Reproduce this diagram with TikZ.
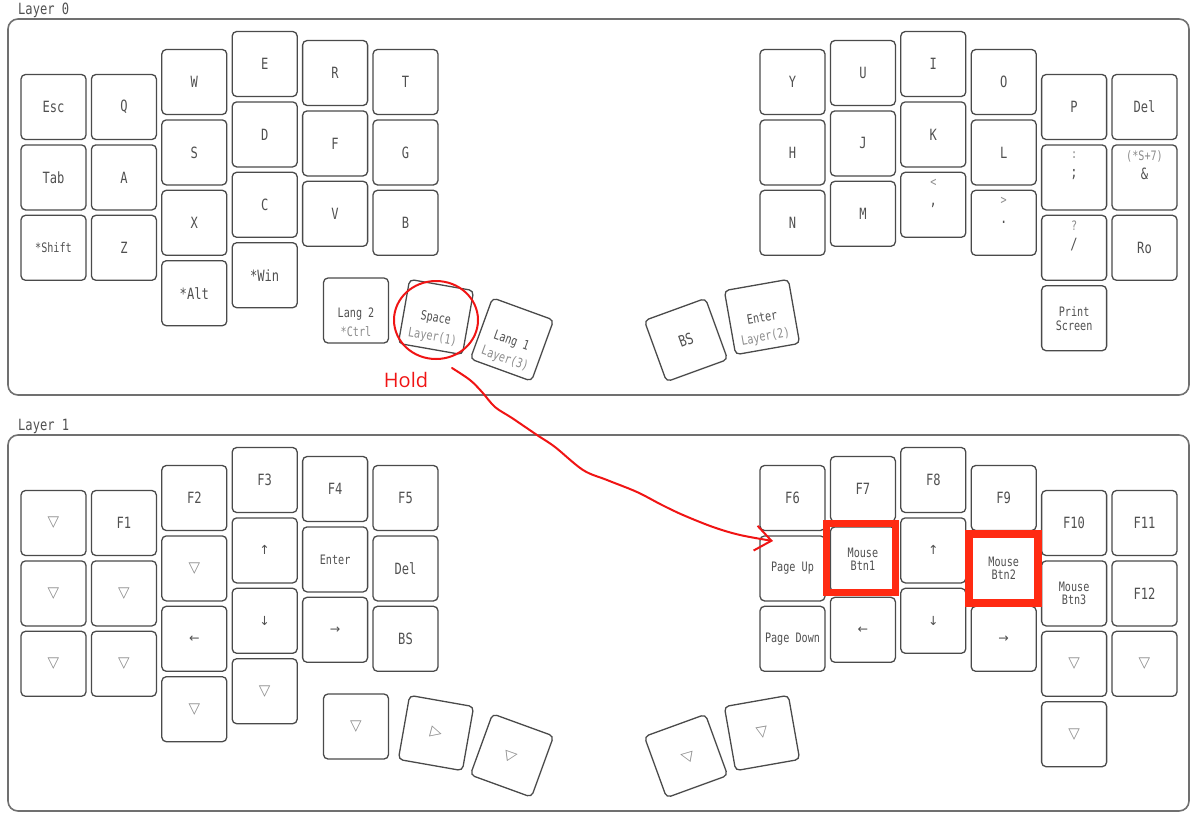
\documentclass[tikz,border=0pt]{standalone}
\usepackage{fontspec}
\usepackage{graphicx}
\usetikzlibrary{arrows.meta,shapes.geometric,calc}
\newfontfamily\mono[FakeStretch=0.78]{DejaVu Sans Mono}
\newfontfamily\simb{DejaVu Sans}
\newfontfamily\manual{Open Sans}
\definecolor{cborde}{HTML}{4A4A4A}
\definecolor{cmarco}{HTML}{707070}
\definecolor{ctexto}{HTML}{505050}
\definecolor{ctextoc}{HTML}{8C8C8C}
\definecolor{crojo}{HTML}{F01414}
\definecolor{cresalte}{HTML}{FF2A12}
\newcommand{\fteclas}{\mono\fontsize{15.5}{19}\selectfont}
\newcommand{\fpeq}{\mono\fontsize{13}{14}\selectfont}
\newcommand{\fflecha}{\simb\fontsize{12.5}{14}\selectfont}
\newcommand{\etq}[1]{{\color{ctextoc}\fontsize{13}{19}\selectfont #1}}
\newcommand{\vacio}{{\simb\fontsize{15}{15}\selectfont\color{ctextoc}▽}}
\tikzset{
  tecla/.style={draw=cborde,line width=1.3pt,rounded corners=4.5pt,minimum size=65pt,
                inner sep=0pt,align=center,font=\fteclas,text=ctexto},
  teclap/.style={tecla,font=\fpeq},
  teclaf/.style={tecla,font=\fflecha},
  marco/.style={draw=cmarco,line width=1.6pt,rounded corners=10pt},
  titulo/.style={font=\fteclas,text=ctexto,anchor=base west,inner sep=0pt},
  resalte/.style={draw=cresalte,line width=7.5pt,minimum size=69pt,inner sep=0pt},
  circulo/.style={draw=crojo,line width=2pt,ellipse,minimum width=84pt,minimum height=78pt,inner sep=0pt},
  trazo/.style={draw=crojo,line width=2pt,line cap=round,line join=round,
                -{Straight Barb[length=16pt,width=25pt,line width=2pt]}},
  nota/.style={font=\manual\fontsize{20}{24}\selectfont,text=crojo,inner sep=0pt},
}

\begin{document}
\begin{tikzpicture}[x=1pt,y=-1pt]
\useasboundingbox (0,0) rectangle (1200,823);

% capa 0
\draw[marco] (8,19) rectangle (1189,395);
\node[titulo] (tcapa0) at (18,14) {Layer 0};

\node[tecla] (esc) at (53.5,107) {Esc};
\node[tecla] (tab) at (53.5,177.4) {Tab};
\node[teclap] (shf) at (53.5,247.8) {*Shift};
\node[tecla] (q) at (123.9,107) {Q};
\node[tecla] (a) at (123.9,177.4) {A};
\node[tecla] (z) at (123.9,247.8) {Z};
\node[tecla] (w) at (194.3,82) {W};
\node[tecla] (s) at (194.3,152.4) {S};
\node[tecla] (x) at (194.3,222.8) {X};
\node[tecla] (alt) at (194.3,293.2) {*Alt};
\node[tecla] (e) at (264.7,64) {E};
\node[tecla] (d) at (264.7,134.4) {D};
\node[tecla] (c) at (264.7,204.8) {C};
\node[tecla] (win) at (264.7,275.2) {*Win};
\node[tecla] (r) at (335.1,73) {R};
\node[tecla] (f) at (335.1,143.4) {F};
\node[tecla] (v) at (335.1,213.8) {V};
\node[tecla] (t) at (405.5,82) {T};
\node[tecla] (g) at (405.5,152.4) {G};
\node[tecla] (b) at (405.5,222.8) {B};

\node[tecla,font=\mono\fontsize{13}{19}\selectfont] (lng2) at (356,310.5) {\strut\\Lang 2\\\etq{*Ctrl}};
\node[tecla,font=\mono\fontsize{13}{19}\selectfont,rotate=-10] (spc) at (436,317) {\strut\\Space\\\etq{Layer(1)}};
\node[tecla,font=\mono\fontsize{13}{19}\selectfont,rotate=-20] (lng1) at (512,339.5) {\strut\\Lang 1\\\etq{Layer(3)}};
\node[tecla,rotate=20] (bs) at (686,340) {BS};
\node[tecla,font=\mono\fontsize{13}{19}\selectfont,rotate=10] (ent) at (762,317) {\strut\\Enter\\\etq{Layer(2)}};

\node[tecla] (y) at (792.5,82) {Y};
\node[tecla] (h) at (792.5,152.4) {H};
\node[tecla] (n) at (792.5,222.8) {N};
\node[tecla] (u) at (862.9,73) {U};
\node[tecla] (j) at (862.9,143.4) {J};
\node[tecla] (m) at (862.9,213.8) {M};
\node[tecla] (i) at (933.3,64) {I};
\node[tecla] (k) at (933.3,134.4) {K};
\node[tecla] (coma) at (933.3,204.8) {\etq{<}\\,\\\strut};
\node[tecla] (o) at (1003.7,82) {O};
\node[tecla] (l) at (1003.7,152.4) {L};
\node[tecla] (punto) at (1003.7,222.8) {\etq{>}\\.\\\strut};
\node[tecla] (p) at (1074.1,107) {P};
\node[tecla] (pyc) at (1074.1,177.4) {\etq{:}\\;\\\strut};
\node[tecla] (barra) at (1074.1,247.8) {\etq{?}\\/\\\strut};
\node[tecla,font=\mono\fontsize{13}{14}\selectfont] (prt) at (1074.1,318.2) {Print\\Screen};
\node[tecla] (del) at (1144.5,107) {Del};
\node[tecla] (amp) at (1144.5,177.4) {\etq{(*S+7)}\\\&\\\strut};
\node[tecla] (ro) at (1144.5,247.8) {Ro};

% capa 1
\draw[marco] (8,435) rectangle (1189,811);
\node[titulo] (tcapa1) at (18,430) {Layer 1};

\node[tecla] (v00) at (53.5,523) {\vacio};
\node[tecla] (v01) at (53.5,593.4) {\vacio};
\node[tecla] (v02) at (53.5,663.8) {\vacio};
\node[tecla] (f1) at (123.9,523) {F1};
\node[tecla] (v11) at (123.9,593.4) {\vacio};
\node[tecla] (v12) at (123.9,663.8) {\vacio};
\node[tecla] (f2) at (194.3,498) {F2};
\node[tecla] (v21) at (194.3,568.4) {\vacio};
\node[teclaf] (izq) at (194.3,638.8) {←};
\node[tecla] (v23) at (194.3,709.2) {\vacio};
\node[tecla] (f3) at (264.7,480) {F3};
\node[teclaf] (arr) at (264.7,550.4) {↑};
\node[teclaf] (aba) at (264.7,620.8) {↓};
\node[tecla] (v33) at (264.7,691.2) {\vacio};
\node[tecla] (f4) at (335.1,489) {F4};
\node[teclap] (ent1) at (335.1,559.4) {Enter};
\node[teclaf] (der) at (335.1,629.8) {→};
\node[tecla] (f5) at (405.5,498) {F5};
\node[tecla] (del1) at (405.5,568.4) {Del};
\node[tecla] (bs1) at (405.5,638.8) {BS};

\node[tecla] (vp0) at (356,726.5) {\vacio};
\node[tecla,rotate=-10] (vp1) at (436,733) {\rotatebox{85}{\vacio}};
\node[tecla,rotate=-20] (vp2) at (512,755.5) {\rotatebox{117}{\vacio}};
\node[tecla,rotate=20] (vp3) at (686,756) {\rotatebox{240}{\vacio}};
\node[tecla,rotate=10] (vp4) at (762,733) {\vacio};

\node[tecla] (f6) at (792.5,498) {F6};
\node[teclap] (pgup) at (792.5,568.4) {Page Up};
\node[teclap] (pgdn) at (792.5,638.8) {Page Down};
\node[tecla] (f7) at (862.9,489) {F7};
\node[teclap,font=\mono\fontsize{13}{13}\selectfont] (mb1) at (862.9,559.4) {Mouse\\Btn1};
\node[teclaf] (izq1) at (862.9,629.8) {←};
\node[tecla] (f8) at (933.3,480) {F8};
\node[teclaf] (arr1) at (933.3,550.4) {↑};
\node[teclaf] (aba1) at (933.3,620.8) {↓};
\node[tecla] (f9) at (1003.7,498) {F9};
\node[teclap,font=\mono\fontsize{13}{13}\selectfont] (mb2) at (1003.7,568.4) {Mouse\\Btn2};
\node[teclaf] (der1) at (1003.7,638.8) {→};
\node[tecla] (f10) at (1074.1,523) {F10};
\node[teclap,font=\mono\fontsize{13}{13}\selectfont] (mb3) at (1074.1,593.4) {Mouse\\Btn3};
\node[tecla] (v42) at (1074.1,663.8) {\vacio};
\node[tecla] (v43) at (1074.1,734.2) {\vacio};
\node[tecla] (f11) at (1144.5,523) {F11};
\node[tecla] (f12) at (1144.5,593.4) {F12};
\node[tecla] (v52) at (1144.5,663.8) {\vacio};

% anotaciones
\node[resalte] (res1) at ($(mb1)+(-2,-1.5)$) {};
\node[resalte] (res2) at (mb2) {};
\node[circulo] (circ) at ($(spc)+(0,3)$) {};
\node[nota] (hold) at (406,380) {Hold};
\coordinate (hini) at (452,368);
\coordinate (hfin) at (773,541);
\draw[trazo] plot[smooth,tension=0.55] coordinates {(hini) (470,380) (482,392) (495,407)
  (512,418) (537,435) (555,447) (583,470) (607,480) (637,492) (662,505) (683,515)
  (713,527) (740,535) (hfin)};

\end{tikzpicture}
\end{document}
